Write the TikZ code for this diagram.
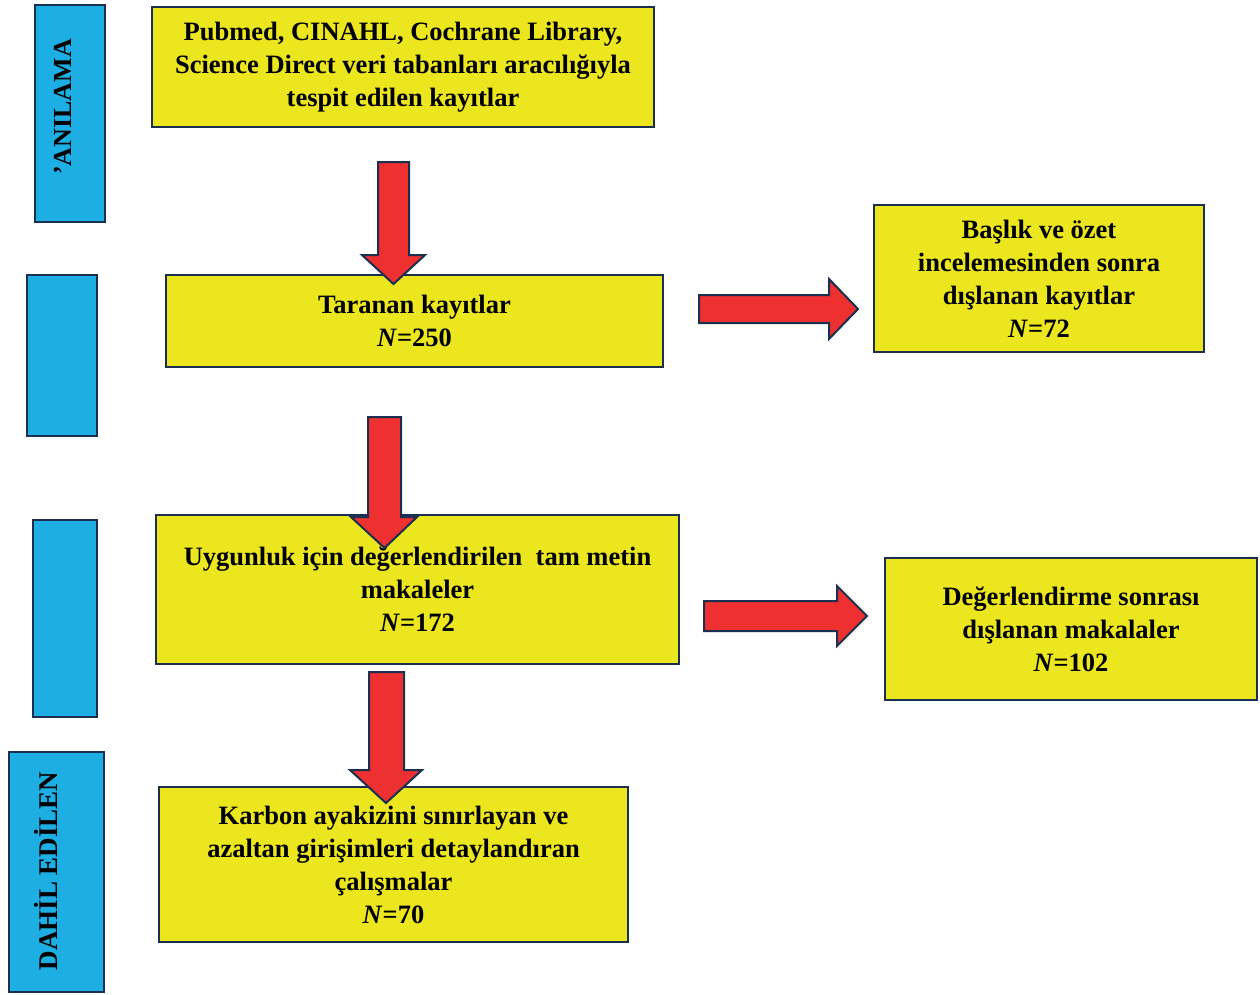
\documentclass[tikz,border=0pt]{standalone}
\usepackage{fontspec}
\setmainfont{Liberation Serif}
\definecolor{boxyellow}{RGB}{235,230,30}
\definecolor{boxblue}{RGB}{29,174,227}
\definecolor{arrred}{RGB}{238,48,48}
\definecolor{navy}{RGB}{27,47,80}
\begin{document}
\begin{tikzpicture}[x=1pt,y=-1pt,
  ybox/.style={draw=navy,line width=2pt,fill=boxyellow,align=center,inner sep=0pt,
    font=\fontsize{26.5}{33}\selectfont\bfseries},
  bbox/.style={draw=navy,line width=2pt,fill=boxblue,inner sep=0pt},
  btext/.style={rotate=90,font=\fontsize{26}{30}\selectfont\bfseries},
  barrow/.style={draw=navy,line width=2pt,fill=arrred,line join=miter}]
\useasboundingbox (0,0) rectangle (1260,994);
% blue side boxes
\node[bbox,minimum width=70pt,minimum height=217pt] (b1) at (70,113.5) {};
\node[btext] (t1) at (63,107) {'ANILAMA};
\node[bbox,minimum width=70pt,minimum height=161pt] (b2) at (62,355.5) {};
\node[bbox,minimum width=64pt,minimum height=197pt] (b3) at (65,618.5) {};
\node[bbox,minimum width=95pt,minimum height=240pt] (b4) at (56.5,872) {};
\node[btext,font=\fontsize{27}{30}\selectfont\bfseries] (t4) at (46,871) {DAHİL EDİLEN};
% yellow boxes
\node[ybox,minimum width=502pt,minimum height=120pt] (y1) at (403,67)
  {Pubmed, CINAHL, Cochrane Library,\\Science Direct veri tabanları aracılığıyla\\tespit edilen kayıtlar};
\node[ybox,minimum width=497pt,minimum height=92pt] (y2) at (414.5,321)
  {Taranan kayıtlar\\\textit{N}=250};
\node[ybox,minimum width=330pt,minimum height=147pt] (y3) at (1039,278.5)
  {Başlık ve özet\\incelemesinden sonra\\dışlanan kayıtlar\\\textit{N}=72};
\node[ybox,minimum width=523pt,minimum height=149pt] (y4) at (417.5,589.5)
  {Uygunluk için değerlendirilen\ \ tam metin\\makaleler\\\textit{N}=172};
\node[ybox,minimum width=372pt,minimum height=142pt] (y5) at (1071,629)
  {Değerlendirme sonrası\\dışlanan makalaler\\\textit{N}=102};
\node[ybox,minimum width=469pt,minimum height=155pt] (y6) at (393.5,864.5)
  {Karbon ayakizini sınırlayan ve\\azaltan girişimleri detaylandıran\\çalışmalar\\\textit{N}=70};
% block arrows
\draw[barrow] (378,162) -- (409,162) -- (409,255) -- (425,255) -- (393.5,284) -- (362,255) -- (378,255) -- cycle;
\draw[barrow] (368,417) -- (401,417) -- (401,517) -- (417,517) -- (384.5,548) -- (351,517) -- (368,517) -- cycle;
\draw[barrow] (369,672) -- (404,672) -- (404,770) -- (422,770) -- (386,803) -- (350,770) -- (369,770) -- cycle;
\draw[barrow] (699,295) -- (829,295) -- (829,279) -- (858,309) -- (829,339) -- (829,323) -- (699,323) -- cycle;
\draw[barrow] (704,601) -- (837,601) -- (837,586) -- (867,616) -- (837,646) -- (837,631) -- (704,631) -- cycle;
\end{tikzpicture}
\end{document}
